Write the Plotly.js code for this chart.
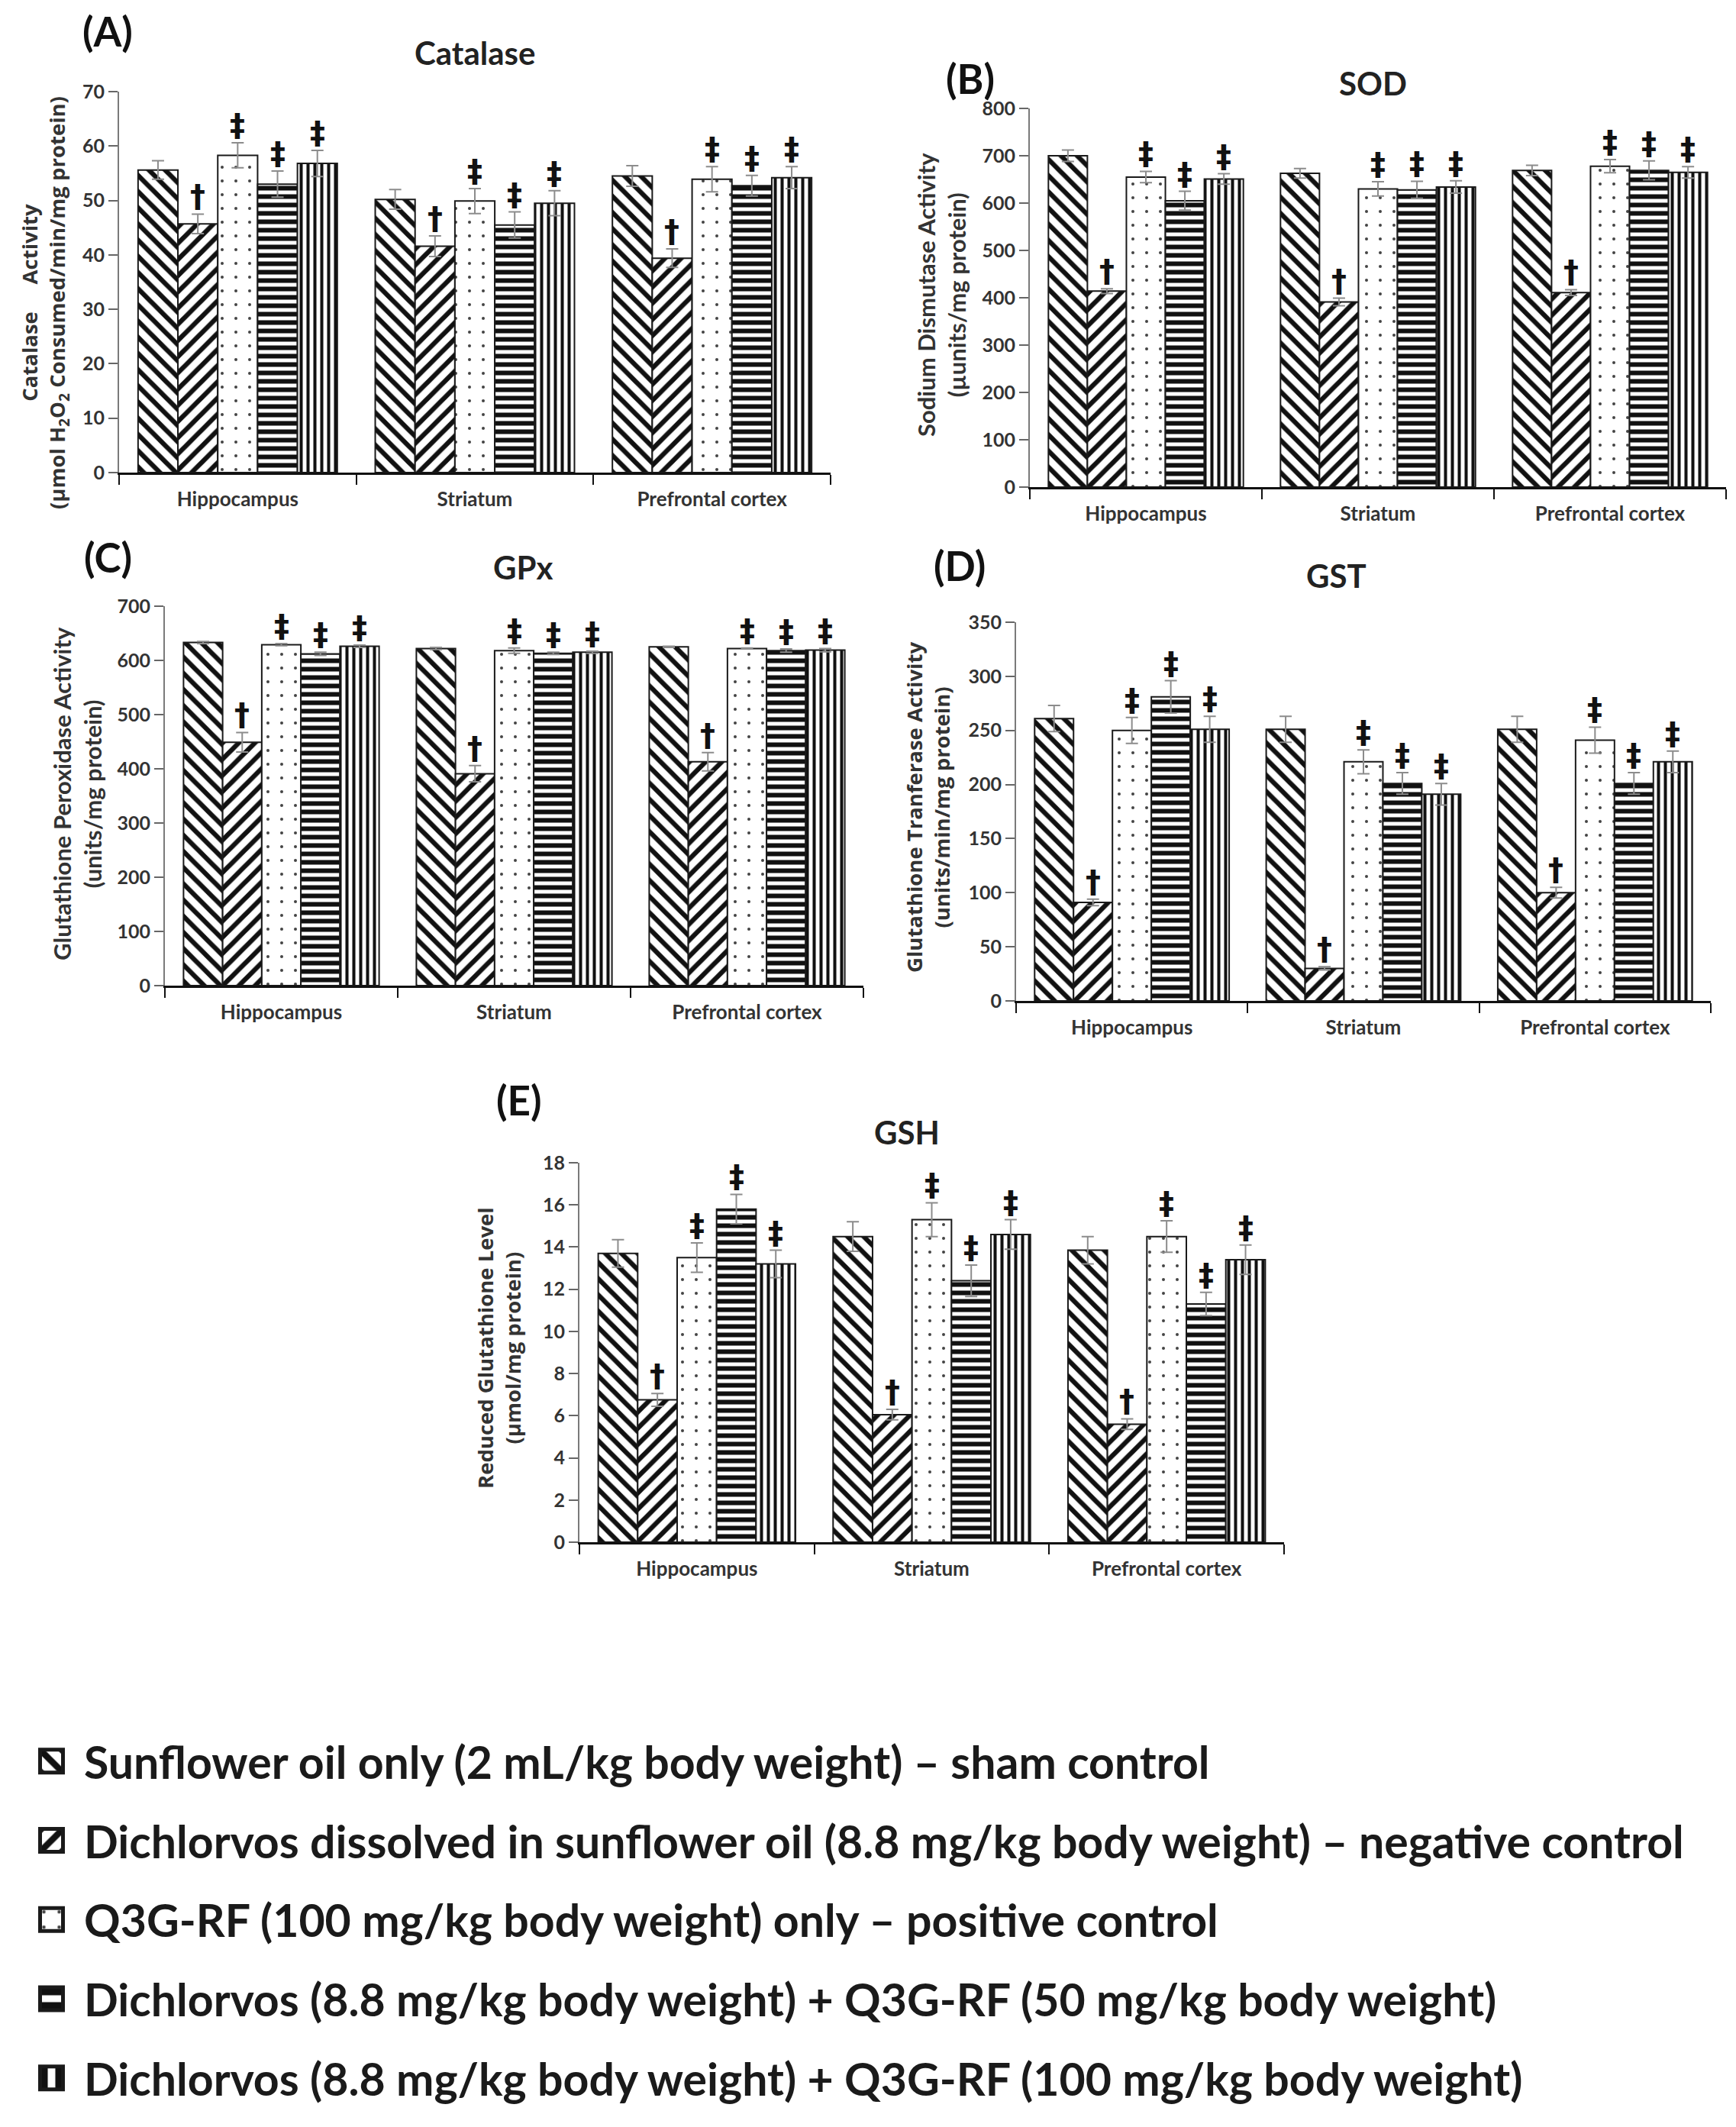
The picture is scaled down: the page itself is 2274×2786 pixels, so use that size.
<!DOCTYPE html>
<html>
<head>
<meta charset="utf-8">
<script src="https://cdn.plot.ly/plotly-3.0.1.min.js"></script>
<style>html,body{margin:0;padding:0;background:#fff;}</style>
</head>
<body>
<div id="chart" style="width:2274px;height:2786px;"></div>
<script>
// ---------------- DATA ----------------
const categories = ['Hippocampus', 'Striatum', 'Prefrontal cortex'];
const seriesNames = [
  'Sunflower oil only (2 mL/kg body weight) \u2013 sham control',
  'Dichlorvos dissolved in sunflower oil (8.8 mg/kg body weight) \u2013 negative control',
  'Q3G-RF (100 mg/kg body weight) only \u2013 positive control',
  'Dichlorvos (8.8 mg/kg body weight) + Q3G-RF (50 mg/kg body weight)',
  'Dichlorvos (8.8 mg/kg body weight) + Q3G-RF (100 mg/kg body weight)'
];
const significance = ['', '\u2020', '\u2021', '\u2021', '\u2021'];

// rows = series (sham, negative, positive, +50, +100); columns = categories
const catalaseMean = [[55.6, 50.2, 54.5], [45.7, 41.6, 39.4], [58.3, 49.9, 53.9], [53.0, 45.5, 52.7], [56.8, 49.5, 54.2]];
const catalaseErr  = [[1.7, 1.8, 1.9], [1.8, 1.9, 1.7], [2.3, 2.3, 2.3], [2.4, 2.4, 1.9], [2.4, 2.3, 2.0]];
const sodMean = [[700, 663, 669], [414, 391, 411], [655, 630, 678], [605, 628, 669], [651, 634, 665]];
const sodErr  = [[12, 10, 11], [5, 8, 6], [12, 15, 14], [20, 18, 20], [11, 13, 12]];
const gpxMean = [[633, 622, 625], [449, 391, 413], [629, 618, 622], [612, 613, 618], [626, 615, 619]];
const gpxErr  = [[2, 2, 1], [18, 15, 17], [2, 5, 1], [3, 2, 3], [2, 2, 3]];
const gstMean = [[261, 251, 251], [91, 30, 100], [250, 221, 241], [281, 201, 201], [251, 191, 221]];
const gstErr  = [[12, 12, 12], [3, 1.5, 5], [12, 11, 12], [15, 10, 10], [12, 10, 10]];
const gshMean = [[13.7, 14.5, 13.85], [6.75, 6.05, 5.6], [13.5, 15.3, 14.5], [15.8, 12.4, 11.3], [13.2, 14.6, 13.4]];
const gshErr  = [[0.65, 0.7, 0.65], [0.3, 0.25, 0.25], [0.7, 0.8, 0.75], [0.7, 0.75, 0.55], [0.65, 0.7, 0.7]];

const panelLetters = ['(A)', '(B)', '(C)', '(D)', '(E)'];
const panelTitles = ['Catalase', 'SOD', 'GPx', 'GST', 'GSH'];
const NB = '\u00a0';
const yTitles = [
  'Catalase' + NB + NB + NB + NB + NB + 'Activity<br>(\u03bcmol H<sub>2</sub>O<sub>2</sub> Consumed/min/mg protein)',
  'Sodium Dismutase Activity<br>(\u00b5units/mg protein)',
  'Glutathione Peroxidase Activity<br>(units/mg protein)',
  'Glutathione Tranferase Activity<br>(units/min/mg protein)',
  'Reduced Glutathione Level<br>(\u00b5mol/mg protein)'
];
const yMax = [70, 800, 700, 350, 18];
const yStep = [10, 100, 100, 50, 2];

// ---------------- LAYOUT / STYLE ----------------
const W = 2274, H = 2786;
const means = [catalaseMean, sodMean, gpxMean, gstMean, gshMean];
const errs = [catalaseErr, sodErr, gpxErr, gstErr, gshErr];
// plot rectangles in pixels: [left, right, top, bottom]
const rects = [
  [156, 1088, 120, 619],
  [1349, 2261, 142, 638],
  [216, 1131, 794, 1291],
  [1331, 2241, 815, 1311],
  [759, 1682, 1523, 2020]
];
const letterPos = [[141, 40], [1271, 103], [141, 729], [1257, 740], [680, 1440]];
const titlePos = [[622, 69], [1798, 109], [685, 743], [1750, 754], [1188, 1483]];
const yTitlePos = [[59, 397], [1233, 386], [101, 1040], [1215, 1058], [653, 1766]];
const yTitleFont = ['Open Sans', 'Lato', 'Lato', 'Open Sans', 'Open Sans'];
const yTitleSize = [27.5, 31, 31, 27.5, 27.5];

const patterns = [
  {shape: '\\', size: 15, solidity: 0.42, fgcolor: '#111'},
  {shape: '/', size: 15, solidity: 0.42, fgcolor: '#111'},
  {shape: '.', size: 18, solidity: 0.04, fgcolor: '#444'},
  {shape: '-', size: 11, solidity: 0.55, fgcolor: '#111'},
  {shape: '|', size: 9, solidity: 0.45, fgcolor: '#111'}
];

const BARGAP = 0.16;
const NS = seriesNames.length;

const traces = [];
const annotations = [];
const layout = {
  width: W, height: H,
  margin: {l: 0, r: 0, t: 0, b: 0},
  paper_bgcolor: '#fff', plot_bgcolor: 'rgba(0,0,0,0)',
  barmode: 'group', bargap: BARGAP, bargroupgap: 0,
  showlegend: true,
  legend: {
    x: 25 / W, y: 1 - 2262 / H, xanchor: 'left', yanchor: 'top',
    font: {family: 'Lato', size: 59, weight: 700, color: '#1a1a1a'},
    tracegroupgap: 24, itemwidth: 75, traceorder: 'grouped',
    bgcolor: 'rgba(0,0,0,0)'
  },
  font: {family: 'Lato', color: '#222'},
  annotations: annotations
};

for (let p = 0; p < 5; p++) {
  const sfx = p === 0 ? '' : String(p + 1);
  const [l, r, t, b] = rects[p];
  layout['xaxis' + sfx] = {
    domain: [l / W, r / W], anchor: 'y' + sfx,
    type: 'category', range: [-0.5, 2.5],
    showline: true, linecolor: '#111', linewidth: 3,
    ticks: 'outside', tickson: 'boundaries', ticklen: 13, tickwidth: 2, tickcolor: '#111',
    ticklabelstandoff: 10,
    tickfont: {family: 'Lato', size: 26, weight: 700, color: '#333'},
    showgrid: false, zeroline: false, fixedrange: true
  };
  layout['yaxis' + sfx] = {
    domain: [1 - b / H, 1 - t / H], anchor: 'x' + sfx,
    range: [0, yMax[p]], dtick: yStep[p], tick0: 0,
    showline: true, linecolor: '#7a7a7a', linewidth: 2,
    ticks: 'outside', ticklen: 12, tickwidth: 2, tickcolor: '#666',
    tickfont: {family: 'Lato', size: 25, weight: 700, color: '#333'},
    showgrid: false, zeroline: false, fixedrange: true
  };
  for (let s = 0; s < NS; s++) {
    traces.push({
      type: 'bar', name: seriesNames[s],
      x: categories, y: means[p][s],
      xaxis: 'x' + sfx, yaxis: 'y' + sfx,
      legendgroup: 'g' + s, showlegend: p === 0,
      marker: {
        color: '#fff',
        line: {color: '#1a1a1a', width: 2},
        pattern: Object.assign({bgcolor: '#fff', fillmode: 'replace'}, patterns[s])
      },
      error_y: {type: 'data', array: errs[p][s], visible: true, color: '#8c8c8c', thickness: 2, width: 8},
      hoverinfo: 'skip'
    });
    if (significance[s]) {
      const w = (1 - BARGAP) / NS;
      for (let c = 0; c < categories.length; c++) {
        annotations.push({
          xref: 'x' + sfx, yref: 'y' + sfx,
          x: c - (1 - BARGAP) / 2 + w * (s + 0.5),
          y: means[p][s][c] + errs[p][s][c],
          text: significance[s], showarrow: false,
          xanchor: 'center', yanchor: 'bottom', yshift: -2,
          font: {family: 'DejaVu Sans', size: 40, weight: 700, color: '#111'}
        });
      }
    }
  }
  annotations.push({
    xref: 'paper', yref: 'paper', x: letterPos[p][0] / W, y: 1 - letterPos[p][1] / H,
    text: panelLetters[p], showarrow: false, xanchor: 'center', yanchor: 'middle',
    font: {family: 'Lato', size: 53, weight: 700, color: '#111'}
  });
  annotations.push({
    xref: 'paper', yref: 'paper', x: titlePos[p][0] / W, y: 1 - titlePos[p][1] / H,
    text: panelTitles[p], showarrow: false, xanchor: 'center', yanchor: 'middle',
    font: {family: 'Lato', size: 42, weight: 700, color: '#222'}
  });
  annotations.push({
    xref: 'paper', yref: 'paper', x: yTitlePos[p][0] / W, y: 1 - yTitlePos[p][1] / H,
    text: yTitles[p], showarrow: false, textangle: -90, align: 'center',
    xanchor: 'center', yanchor: 'middle',
    font: {family: yTitleFont[p], size: yTitleSize[p], weight: 700, color: '#333'}
  });
}

Plotly.newPlot('chart', traces, layout, {staticPlot: true, displayModeBar: false}).then(function (gd) {
  // enlarge the legend swatches to the size used in the reference
  gd.querySelectorAll('.legend .legendpoints path').forEach(function (el) {
    const t = el.getAttribute('transform') || '';
    el.setAttribute('transform', t + ' scale(2.5)');
  });
});
</script>
</body>
</html>
